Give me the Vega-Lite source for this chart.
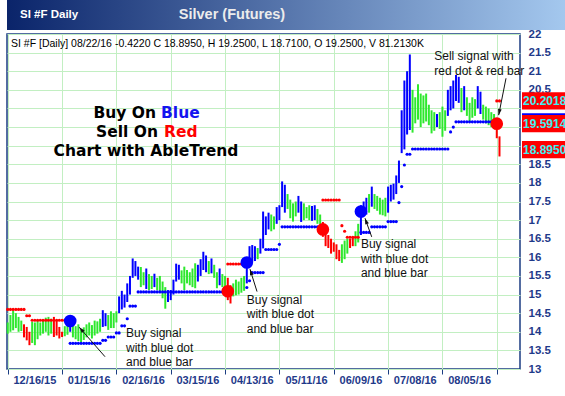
{
  "$schema": "https://vega.github.io/schema/vega-lite/v6.json",
  "background": "white",
  "padding": 0,
  "spacing": -3,
  "config": {"view": {"stroke": null}, "font": "Liberation Sans"},
  "datasets": {
    "bars": [
      {"i":0,"low":13.95,"high":14.25,"trend":"flat","stop":14.6,"side":"sell"},
      {"i":1,"low":14.0,"high":14.45,"trend":"flat","stop":14.6,"side":"sell"},
      {"i":2,"low":14.04,"high":14.58,"trend":"flat","stop":14.6,"side":"sell"},
      {"i":3,"low":14.1,"high":14.5,"trend":"flat","stop":14.6,"side":"sell"},
      {"i":4,"low":14.0,"high":14.4,"trend":"flat","stop":14.6,"side":"sell"},
      {"i":5,"low":14.02,"high":14.3,"trend":"flat","stop":14.6,"side":"sell"},
      {"i":6,"low":13.85,"high":14.2,"trend":"down","stop":14.6,"side":"sell"},
      {"i":7,"low":13.77,"high":14.13,"trend":"down","stop":14.43,"side":"sell"},
      {"i":8,"low":13.64,"high":14.0,"trend":"down","stop":14.43,"side":"sell"},
      {"i":9,"low":13.7,"high":14.27,"trend":"flat","stop":14.31,"side":"sell"},
      {"i":10,"low":13.64,"high":14.25,"trend":"flat","stop":14.31,"side":"sell"},
      {"i":11,"low":13.8,"high":14.3,"trend":"flat","stop":14.31,"side":"sell"},
      {"i":12,"low":13.9,"high":14.25,"trend":"flat","stop":14.31,"side":"sell"},
      {"i":13,"low":13.95,"high":14.32,"trend":"flat","stop":14.31,"side":"sell"},
      {"i":14,"low":14.0,"high":14.38,"trend":"flat","stop":14.31,"side":"sell"},
      {"i":15,"low":13.9,"high":14.4,"trend":"flat","stop":14.31,"side":"sell"},
      {"i":16,"low":13.95,"high":14.35,"trend":"flat","stop":14.31,"side":"sell"},
      {"i":17,"low":13.86,"high":14.4,"trend":"down","stop":14.31,"side":"sell"},
      {"i":18,"low":13.9,"high":14.3,"trend":"down","stop":14.31,"side":"sell"},
      {"i":19,"low":13.82,"high":14.13,"trend":"down","stop":14.31,"side":"sell"},
      {"i":20,"low":13.86,"high":14.0,"trend":"down","stop":14.31,"side":"sell"},
      {"i":21,"low":13.88,"high":14.15,"trend":"flat","stop":14.31,"side":"sell"},
      {"i":22,"low":13.92,"high":14.22,"trend":"flat","stop":14.31,"side":"sell"},
      {"i":23,"low":14.0,"high":14.35,"trend":"up","stop":13.69,"side":"buy"},
      {"i":24,"low":13.85,"high":14.22,"trend":"flat","stop":13.69,"side":"buy"},
      {"i":25,"low":13.8,"high":14.15,"trend":"flat","stop":13.69,"side":"buy"},
      {"i":26,"low":13.75,"high":14.2,"trend":"flat","stop":13.69,"side":"buy"},
      {"i":27,"low":13.72,"high":14.05,"trend":"flat","stop":13.69,"side":"buy"},
      {"i":28,"low":13.78,"high":14.12,"trend":"flat","stop":13.69,"side":"buy"},
      {"i":29,"low":13.85,"high":14.2,"trend":"flat","stop":13.69,"side":"buy"},
      {"i":30,"low":13.9,"high":14.25,"trend":"flat","stop":13.69,"side":"buy"},
      {"i":31,"low":13.82,"high":14.18,"trend":"flat","stop":13.69,"side":"buy"},
      {"i":32,"low":13.9,"high":14.3,"trend":"flat","stop":13.69,"side":"buy"},
      {"i":33,"low":13.95,"high":14.28,"trend":"flat","stop":13.69,"side":"buy"},
      {"i":34,"low":14.0,"high":14.35,"trend":"flat","stop":13.69,"side":"buy"},
      {"i":35,"low":14.13,"high":14.58,"trend":"up","stop":13.77,"side":"buy"},
      {"i":36,"low":14.15,"high":14.5,"trend":"up","stop":13.77,"side":"buy"},
      {"i":37,"low":14.05,"high":14.45,"trend":"flat","stop":13.86,"side":"buy"},
      {"i":38,"low":14.1,"high":14.55,"trend":"flat","stop":13.86,"side":"buy"},
      {"i":39,"low":14.1,"high":14.5,"trend":"flat","stop":13.86,"side":"buy"},
      {"i":40,"low":14.25,"high":14.55,"trend":"flat","stop":13.97,"side":"buy"},
      {"i":41,"low":14.5,"high":14.95,"trend":"up","stop":13.97,"side":"buy"},
      {"i":42,"low":14.6,"high":15.1,"trend":"up","stop":14.16,"side":"buy"},
      {"i":43,"low":14.65,"high":15.0,"trend":"up","stop":14.16,"side":"buy"},
      {"i":44,"low":14.8,"high":15.3,"trend":"up","stop":14.35,"side":"buy"},
      {"i":45,"low":15.0,"high":15.5,"trend":"up","stop":14.69,"side":"buy"},
      {"i":46,"low":15.45,"high":15.97,"trend":"up","stop":14.69,"side":"buy"},
      {"i":47,"low":15.5,"high":15.9,"trend":"up","stop":14.69,"side":"buy"},
      {"i":48,"low":15.4,"high":15.75,"trend":"up","stop":15.07,"side":"buy"},
      {"i":49,"low":15.2,"high":15.74,"trend":"flat","stop":15.07,"side":"buy"},
      {"i":50,"low":15.25,"high":15.6,"trend":"flat","stop":15.07,"side":"buy"},
      {"i":51,"low":15.15,"high":15.7,"trend":"up","stop":15.07,"side":"buy"},
      {"i":52,"low":15.12,"high":15.55,"trend":"flat","stop":15.07,"side":"buy"},
      {"i":53,"low":15.15,"high":15.5,"trend":"flat","stop":15.07,"side":"buy"},
      {"i":54,"low":15.2,"high":15.56,"trend":"up","stop":15.07,"side":"buy"},
      {"i":55,"low":15.12,"high":15.45,"trend":"flat","stop":15.07,"side":"buy"},
      {"i":56,"low":15.05,"high":15.5,"trend":"flat","stop":15.07,"side":"buy"},
      {"i":57,"low":14.9,"high":15.35,"trend":"flat","stop":15.07,"side":"buy"},
      {"i":58,"low":14.62,"high":15.2,"trend":"flat","stop":15.07,"side":"buy"},
      {"i":59,"low":14.8,"high":15.12,"trend":"up","stop":15.07,"side":"buy"},
      {"i":60,"low":14.85,"high":15.12,"trend":"up","stop":15.07,"side":"buy"},
      {"i":61,"low":15.0,"high":15.4,"trend":"up","stop":15.07,"side":"buy"},
      {"i":62,"low":15.35,"high":15.83,"trend":"up","stop":15.07,"side":"buy"},
      {"i":63,"low":15.4,"high":15.8,"trend":"up","stop":15.07,"side":"buy"},
      {"i":64,"low":15.3,"high":15.65,"trend":"flat","stop":15.07,"side":"buy"},
      {"i":65,"low":15.12,"high":15.75,"trend":"flat","stop":15.07,"side":"buy"},
      {"i":66,"low":15.3,"high":15.66,"trend":"flat","stop":15.07,"side":"buy"},
      {"i":67,"low":15.25,"high":15.6,"trend":"flat","stop":15.07,"side":"buy"},
      {"i":68,"low":15.2,"high":15.7,"trend":"flat","stop":15.07,"side":"buy"},
      {"i":69,"low":15.17,"high":15.84,"trend":"flat","stop":15.07,"side":"buy"},
      {"i":70,"low":15.35,"high":15.8,"trend":"up","stop":15.07,"side":"buy"},
      {"i":71,"low":15.5,"high":15.95,"trend":"up","stop":15.07,"side":"buy"},
      {"i":72,"low":15.66,"high":16.15,"trend":"up","stop":15.07,"side":"buy"},
      {"i":73,"low":15.6,"high":16.05,"trend":"up","stop":15.07,"side":"buy"},
      {"i":74,"low":15.55,"high":15.9,"trend":"flat","stop":15.07,"side":"buy"},
      {"i":75,"low":15.57,"high":15.97,"trend":"up","stop":15.07,"side":"buy"},
      {"i":76,"low":15.45,"high":15.8,"trend":"flat","stop":15.07,"side":"buy"},
      {"i":77,"low":15.17,"high":15.6,"trend":"flat","stop":15.07,"side":"buy"},
      {"i":78,"low":15.25,"high":15.7,"trend":"up","stop":15.07,"side":"buy"},
      {"i":79,"low":15.2,"high":15.55,"trend":"flat","stop":15.07,"side":"buy"},
      {"i":80,"low":15.17,"high":15.5,"trend":"flat","stop":15.07,"side":"buy"},
      {"i":81,"low":14.85,"high":15.45,"trend":"down","stop":15.82,"side":"sell"},
      {"i":82,"low":14.76,"high":15.25,"trend":"down","stop":15.82,"side":"sell"},
      {"i":83,"low":14.95,"high":15.3,"trend":"flat","stop":15.82,"side":"sell"},
      {"i":84,"low":14.98,"high":15.4,"trend":"flat","stop":15.82,"side":"sell"},
      {"i":85,"low":15.0,"high":15.35,"trend":"flat","stop":15.82,"side":"sell"},
      {"i":86,"low":15.05,"high":15.45,"trend":"flat","stop":15.82,"side":"sell"},
      {"i":87,"low":15.1,"high":15.5,"trend":"flat","stop":null,"side":null},
      {"i":88,"low":15.3,"high":15.95,"trend":"up","stop":15.19,"side":"buy"},
      {"i":89,"low":15.85,"high":16.3,"trend":"up","stop":15.37,"side":"buy"},
      {"i":90,"low":15.88,"high":16.33,"trend":"up","stop":15.59,"side":"buy"},
      {"i":91,"low":15.9,"high":16.3,"trend":"up","stop":15.59,"side":"buy"},
      {"i":92,"low":15.95,"high":16.25,"trend":"flat","stop":15.59,"side":"buy"},
      {"i":93,"low":16.1,"high":16.5,"trend":"up","stop":15.59,"side":"buy"},
      {"i":94,"low":16.24,"high":17.23,"trend":"up","stop":15.59,"side":"buy"},
      {"i":95,"low":16.6,"high":17.1,"trend":"up","stop":16.21,"side":"buy"},
      {"i":96,"low":16.75,"high":17.2,"trend":"up","stop":16.21,"side":"buy"},
      {"i":97,"low":16.7,"high":17.15,"trend":"flat","stop":16.21,"side":"buy"},
      {"i":98,"low":16.75,"high":17.1,"trend":"flat","stop":16.21,"side":"buy"},
      {"i":99,"low":16.9,"high":17.35,"trend":"up","stop":16.21,"side":"buy"},
      {"i":100,"low":17.0,"high":17.4,"trend":"up","stop":16.35,"side":"buy"},
      {"i":101,"low":17.35,"high":18.04,"trend":"up","stop":16.82,"side":"buy"},
      {"i":102,"low":17.2,"high":17.95,"trend":"up","stop":16.82,"side":"buy"},
      {"i":103,"low":17.3,"high":17.7,"trend":"flat","stop":16.82,"side":"buy"},
      {"i":104,"low":17.05,"high":17.55,"trend":"flat","stop":16.82,"side":"buy"},
      {"i":105,"low":16.96,"high":17.45,"trend":"flat","stop":16.82,"side":"buy"},
      {"i":106,"low":17.1,"high":17.5,"trend":"flat","stop":16.82,"side":"buy"},
      {"i":107,"low":17.2,"high":17.65,"trend":"up","stop":16.82,"side":"buy"},
      {"i":108,"low":16.95,"high":17.5,"trend":"up","stop":16.82,"side":"buy"},
      {"i":109,"low":17.0,"high":17.45,"trend":"flat","stop":16.82,"side":"buy"},
      {"i":110,"low":17.05,"high":17.35,"trend":"flat","stop":16.82,"side":"buy"},
      {"i":111,"low":17.0,"high":17.4,"trend":"flat","stop":16.82,"side":"buy"},
      {"i":112,"low":16.98,"high":17.38,"trend":"up","stop":16.82,"side":"buy"},
      {"i":113,"low":17.0,"high":17.4,"trend":"up","stop":16.82,"side":"buy"},
      {"i":114,"low":16.9,"high":17.3,"trend":"flat","stop":16.82,"side":"buy"},
      {"i":115,"low":16.85,"high":17.15,"trend":"flat","stop":16.82,"side":"buy"},
      {"i":116,"low":16.55,"high":16.95,"trend":"down","stop":17.54,"side":"sell"},
      {"i":117,"low":16.3,"high":16.75,"trend":"down","stop":17.54,"side":"sell"},
      {"i":118,"low":16.25,"high":16.6,"trend":"down","stop":17.54,"side":"sell"},
      {"i":119,"low":16.1,"high":16.5,"trend":"down","stop":17.54,"side":"sell"},
      {"i":120,"low":16.15,"high":16.4,"trend":"down","stop":17.54,"side":"sell"},
      {"i":121,"low":15.95,"high":16.35,"trend":"down","stop":17.54,"side":"sell"},
      {"i":122,"low":15.9,"high":16.2,"trend":"down","stop":17.54,"side":"sell"},
      {"i":123,"low":15.85,"high":16.35,"trend":"flat","stop":16.85,"side":"sell"},
      {"i":124,"low":15.95,"high":16.45,"trend":"flat","stop":16.7,"side":"sell"},
      {"i":125,"low":16.1,"high":16.5,"trend":"flat","stop":16.54,"side":"sell"},
      {"i":126,"low":16.25,"high":16.5,"trend":"down","stop":16.54,"side":"sell"},
      {"i":127,"low":16.3,"high":16.52,"trend":"down","stop":16.54,"side":"sell"},
      {"i":128,"low":16.3,"high":16.7,"trend":"flat","stop":16.54,"side":"sell"},
      {"i":129,"low":16.4,"high":16.9,"trend":"flat","stop":16.54,"side":"sell"},
      {"i":130,"low":16.6,"high":17.4,"trend":"up","stop":16.67,"side":"buy"},
      {"i":131,"low":17.1,"high":17.5,"trend":"up","stop":16.67,"side":"buy"},
      {"i":132,"low":17.15,"high":17.6,"trend":"up","stop":16.67,"side":"buy"},
      {"i":133,"low":17.2,"high":17.7,"trend":"flat","stop":16.67,"side":"buy"},
      {"i":134,"low":17.36,"high":17.9,"trend":"up","stop":16.82,"side":"buy"},
      {"i":135,"low":17.3,"high":17.7,"trend":"flat","stop":16.82,"side":"buy"},
      {"i":136,"low":17.25,"high":17.65,"trend":"flat","stop":16.82,"side":"buy"},
      {"i":137,"low":17.15,"high":17.6,"trend":"flat","stop":16.82,"side":"buy"},
      {"i":138,"low":17.13,"high":17.55,"trend":"flat","stop":16.82,"side":"buy"},
      {"i":139,"low":17.1,"high":17.6,"trend":"flat","stop":16.82,"side":"buy"},
      {"i":140,"low":17.2,"high":17.9,"trend":"up","stop":16.96,"side":"buy"},
      {"i":141,"low":17.5,"high":17.95,"trend":"up","stop":16.96,"side":"buy"},
      {"i":142,"low":17.55,"high":17.98,"trend":"up","stop":16.96,"side":"buy"},
      {"i":143,"low":17.7,"high":18.2,"trend":"up","stop":16.96,"side":"buy"},
      {"i":144,"low":18.0,"high":18.6,"trend":"up","stop":17.47,"side":"buy"},
      {"i":145,"low":18.8,"high":19.95,"trend":"up","stop":17.9,"side":"buy"},
      {"i":146,"low":18.9,"high":20.75,"trend":"up","stop":18.48,"side":"buy"},
      {"i":147,"low":19.3,"high":21.0,"trend":"up","stop":18.77,"side":"buy"},
      {"i":148,"low":19.42,"high":21.45,"trend":"up","stop":18.77,"side":"buy"},
      {"i":149,"low":19.35,"high":20.5,"trend":"flat","stop":18.91,"side":"buy"},
      {"i":150,"low":19.6,"high":20.3,"trend":"flat","stop":18.91,"side":"buy"},
      {"i":151,"low":19.7,"high":20.65,"trend":"flat","stop":18.91,"side":"buy"},
      {"i":152,"low":19.5,"high":20.4,"trend":"flat","stop":18.91,"side":"buy"},
      {"i":153,"low":19.6,"high":20.35,"trend":"flat","stop":18.91,"side":"buy"},
      {"i":154,"low":19.65,"high":20.4,"trend":"flat","stop":18.91,"side":"buy"},
      {"i":155,"low":19.55,"high":20.1,"trend":"flat","stop":18.91,"side":"buy"},
      {"i":156,"low":19.33,"high":19.95,"trend":"flat","stop":18.91,"side":"buy"},
      {"i":157,"low":19.4,"high":19.9,"trend":"flat","stop":18.91,"side":"buy"},
      {"i":158,"low":19.5,"high":19.85,"trend":"up","stop":18.91,"side":"buy"},
      {"i":159,"low":19.45,"high":19.9,"trend":"flat","stop":18.91,"side":"buy"},
      {"i":160,"low":19.24,"high":20.05,"trend":"flat","stop":18.91,"side":"buy"},
      {"i":161,"low":19.4,"high":19.95,"trend":"flat","stop":18.91,"side":"buy"},
      {"i":162,"low":19.8,"high":20.5,"trend":"up","stop":18.91,"side":"buy"},
      {"i":163,"low":19.95,"high":20.6,"trend":"up","stop":19.37,"side":"buy"},
      {"i":164,"low":20.0,"high":20.75,"trend":"up","stop":19.5,"side":"buy"},
      {"i":165,"low":20.2,"high":20.9,"trend":"up","stop":19.64,"side":"buy"},
      {"i":166,"low":20.15,"high":20.85,"trend":"up","stop":19.64,"side":"buy"},
      {"i":167,"low":19.9,"high":20.55,"trend":"flat","stop":19.64,"side":"buy"},
      {"i":168,"low":19.95,"high":20.6,"trend":"up","stop":19.64,"side":"buy"},
      {"i":169,"low":19.8,"high":20.3,"trend":"flat","stop":19.64,"side":"buy"},
      {"i":170,"low":19.65,"high":20.15,"trend":"flat","stop":19.64,"side":"buy"},
      {"i":171,"low":19.75,"high":20.3,"trend":"flat","stop":19.64,"side":"buy"},
      {"i":172,"low":19.8,"high":20.25,"trend":"flat","stop":19.64,"side":"buy"},
      {"i":173,"low":20.0,"high":20.6,"trend":"up","stop":19.64,"side":"buy"},
      {"i":174,"low":19.85,"high":20.45,"trend":"up","stop":19.64,"side":"buy"},
      {"i":175,"low":19.7,"high":20.1,"trend":"flat","stop":19.64,"side":"buy"},
      {"i":176,"low":19.6,"high":20.05,"trend":"flat","stop":19.64,"side":"buy"},
      {"i":177,"low":19.55,"high":20.0,"trend":"flat","stop":19.64,"side":"buy"},
      {"i":178,"low":19.5,"high":19.9,"trend":"flat","stop":19.64,"side":"buy"},
      {"i":179,"low":19.45,"high":19.85,"trend":"flat","stop":19.64,"side":"buy"},
      {"i":180,"low":19.2,"high":19.55,"trend":"down","stop":20.2018,"side":"sell"},
      {"i":181,"low":18.71,"high":19.25,"trend":"down","stop":20.2018,"side":"sell"}
    ],
    "signals": [
      {"i":23,"price":14.29,"signal":"buy"},
      {"i":81,"price":15.09,"signal":"sell"},
      {"i":88,"price":15.86,"signal":"buy"},
      {"i":116,"price":16.75,"signal":"sell"},
      {"i":130,"price":17.23,"signal":"buy"},
      {"i":180,"price":19.5914,"signal":"sell"}
    ],
    "notes": [
      {"note":"Buy signal\nwith blue dot\nand blue bar","i":43.54,"price":14.09},
      {"note":"Buy signal\nwith blue dot\nand blue bar","i":87.97,"price":15.0},
      {"note":"Buy signal\nwith blue dot\nand blue bar","i":130.0,"price":16.48},
      {"note":"Sell signal with\nred dot & red bar","i":157.0,"price":21.53}
    ],
    "arrows": [
      {"i":35.81,"price":13.33,"i2":26.35,"price2":14.12},
      {"i":91.76,"price":15.08,"i2":89.18,"price2":15.68},
      {"i":133.97,"price":16.55,"i2":131.5,"price2":17.05},
      {"i":183.4,"price":20.81,"i2":180.7,"price2":19.82}
    ],
    "tags": [
      {"price":19.64,"kind":"buy stop"},
      {"price":20.2018,"kind":"sell stop"},
      {"price":19.5914,"kind":"signal"},
      {"price":18.895,"kind":"close"}
    ],
    "dates": [
      {"i":10,"date":"12/16/15"},
      {"i":30,"date":"01/15/16"},
      {"i":50,"date":"02/16/16"},
      {"i":70,"date":"03/15/16"},
      {"i":90,"date":"04/13/16"},
      {"i":110,"date":"05/11/16"},
      {"i":130,"date":"06/09/16"},
      {"i":150,"date":"07/08/16"},
      {"i":170,"date":"08/05/16"}
    ]
  },
  "vconcat": [
    {
      "width": 565,
      "height": 30,
      "view": {"stroke": null},
      "data": {"values": [{"name": "SI #F Daily", "title": "Silver (Futures)"}]},
      "layer": [
        {
          "mark": {"type": "rect", "color": {"x1": 0, "y1": 0, "x2": 1, "y2": 0, "gradient": "linear", "stops": [{"offset": 0, "color": "#0a246a"}, {"offset": 1, "color": "#a6caf0"}]}},
          "encoding": {}
        },
        {
          "mark": {"type": "text", "align": "left", "baseline": "middle", "dx": -269.5, "font": "Liberation Sans", "fontWeight": "bold", "fontSize": 11.5, "color": "white"},
          "encoding": {"text": {"field": "name"}}
        },
        {
          "mark": {"type": "text", "align": "center", "baseline": "middle", "dx": -57.5, "font": "Liberation Sans", "fontWeight": "bold", "fontSize": 14.5, "color": "#ececec"},
          "encoding": {"text": {"field": "title"}}
        }
      ]
    },
    {
      "width": 513,
      "height": 335,
      "view": {"stroke": "#1b3d82", "strokeWidth": 1.5, "fill": "white"},
      "resolve": {"axis": {"y": "independent"}, "scale": {"color": "independent"}},
      "layer": [
        {
          "data": {"name": "bars"},
          "mark": {"type": "rule", "strokeWidth": 2},
          "encoding": {
            "x": {"field": "i", "type": "quantitative", "scale": {"domain": [-0.26, 188.55], "nice": false, "zero": false},
              "axis": {"title": null, "orient": "bottom", "labels": false, "values": [0,5,10,15,20,25,30,35,40,45,50,55,60,65,70,75,80,85,90,95,100,105,110,115,120,125,130,135,140,145,150,155,160,165,170,175,180],
                "grid": true, "gridColor": "#c2efc2", "gridWidth": 1, "domain": false, "ticks": true, "tickSize": 5, "tickColor": "#1b3d82", "tickWidth": 1}},
            "y": {"field": "low", "type": "quantitative", "scale": {"domain": [13, 22], "nice": false, "zero": false},
              "axis": {"title": null, "orient": "right", "values": [13,13.5,14,14.5,15,15.5,16,16.5,17,17.5,18,18.5,19,19.5,20,20.5,21,21.5,22],
                "labelExpr": "datum.value == 19 || datum.value == 19.5 || datum.value == 20 ? '' : format(datum.value, '~g')",
                "grid": true, "gridColor": "#c2efc2", "gridWidth": 1, "domain": false, "ticks": false, "tickSize": 0, "labelPadding": 8,
                "labelFont": "Liberation Sans", "labelFontSize": 11.5, "labelFontWeight": "bold", "labelColor": "#1f3a8a", "labelFlush": false, "labelOverlap": false}},
            "y2": {"field": "high"},
            "color": {"field": "trend", "type": "nominal", "scale": {"domain": ["up", "flat", "down"], "range": ["#0000ff", "#2ee82e", "#ff0000"]}, "legend": null}
          }
        },
        {
          "data": {"name": "bars"},
          "transform": [{"filter": "isValid(datum.stop)"}],
          "mark": {"type": "point", "filled": true, "size": 10, "opacity": 1, "strokeWidth": 0},
          "encoding": {
            "x": {"field": "i", "type": "quantitative"},
            "y": {"field": "stop", "type": "quantitative", "axis": {"orient": "left", "title": null, "labels": false, "ticks": false, "domain": false, "grid": false, "minExtent": 6, "maxExtent": 6}},
            "color": {"field": "side", "type": "nominal", "scale": {"domain": ["buy", "sell"], "range": ["#0000ff", "#ff0000"]}, "legend": null}
          }
        },
        {
          "data": {"name": "signals"},
          "mark": {"type": "circle", "size": 160, "opacity": 1},
          "encoding": {
            "x": {"field": "i", "type": "quantitative"},
            "y": {"field": "price", "type": "quantitative", "axis": null},
            "color": {"field": "signal", "type": "nominal", "scale": {"domain": ["buy", "sell"], "range": ["#0000ff", "#ff0000"]}, "legend": null}
          }
        },
        {
          "data": {"name": "arrows"},
          "mark": {"type": "rule", "color": "#111111", "strokeWidth": 1},
          "encoding": {
            "x": {"field": "i", "type": "quantitative"},
            "y": {"field": "price", "type": "quantitative", "axis": null},
            "x2": {"field": "i2"},
            "y2": {"field": "price2"}
          }
        },
        {
          "data": {"values": [{}]},
          "mark": {"type": "point", "shape": "M0,0L0.7,2.2L-0.7,2.2Z", "size": 30, "filled": true, "opacity": 1, "color": "#111111", "angle": 318.8},
          "encoding": {"x": {"datum": 26.35, "type": "quantitative"}, "y": {"datum": 14.12, "type": "quantitative", "axis": null}}
        },
        {
          "data": {"values": [{}]},
          "mark": {"type": "point", "shape": "M0,0L0.7,2.2L-0.7,2.2Z", "size": 30, "filled": true, "opacity": 1, "color": "#111111", "angle": 342.6},
          "encoding": {"x": {"datum": 89.18, "type": "quantitative"}, "y": {"datum": 15.68, "type": "quantitative", "axis": null}}
        },
        {
          "data": {"values": [{}]},
          "mark": {"type": "point", "shape": "M0,0L0.7,2.2L-0.7,2.2Z", "size": 30, "filled": true, "opacity": 1, "color": "#111111", "angle": 340},
          "encoding": {"x": {"datum": 131.5, "type": "quantitative"}, "y": {"datum": 17.05, "type": "quantitative", "axis": null}}
        },
        {
          "data": {"values": [{}]},
          "mark": {"type": "point", "shape": "M0,0L0.7,2.2L-0.7,2.2Z", "size": 30, "filled": true, "opacity": 1, "color": "#111111", "angle": 191.2},
          "encoding": {"x": {"datum": 180.7, "type": "quantitative"}, "y": {"datum": 19.82, "type": "quantitative", "axis": null}}
        },
        {
          "data": {"name": "notes"},
          "mark": {"type": "text", "align": "left", "baseline": "top", "lineBreak": "\n", "lineHeight": 14.5, "font": "Liberation Sans", "fontSize": 12, "color": "#111111"},
          "encoding": {
            "x": {"field": "i", "type": "quantitative"},
            "y": {"field": "price", "type": "quantitative", "axis": null},
            "text": {"field": "note"}
          }
        },
        {
          "data": {"values": [{}]},
          "mark": {"type": "text", "text": "SI #F [Daily] 08/22/16  -0.4220 C 18.8950, H 19.2500, L 18.7100, O 19.2500, V 81.2130K", "align": "left", "baseline": "middle", "font": "Liberation Sans", "fontSize": 10.5, "color": "#000000"},
          "encoding": {"x": {"datum": 1.21, "type": "quantitative"}, "y": {"datum": 21.73, "type": "quantitative", "axis": null}}
        },
        {
          "data": {"values": [{}]},
          "mark": {"type": "text", "text": "Buy On", "align": "right", "baseline": "middle", "font": "DejaVu Sans", "fontWeight": "bold", "fontSize": 15.5, "color": "#000000"},
          "encoding": {"x": {"datum": 54.58, "type": "quantitative"}, "y": {"datum": 19.88, "type": "quantitative", "axis": null}}
        },
        {
          "data": {"values": [{}]},
          "mark": {"type": "text", "text": "Blue", "align": "left", "baseline": "middle", "font": "DejaVu Sans", "fontWeight": "bold", "fontSize": 15.5, "color": "#1414f0"},
          "encoding": {"x": {"datum": 56.42, "type": "quantitative"}, "y": {"datum": 19.88, "type": "quantitative", "axis": null}}
        },
        {
          "data": {"values": [{}]},
          "mark": {"type": "text", "text": "Sell On", "align": "right", "baseline": "middle", "font": "DejaVu Sans", "fontWeight": "bold", "fontSize": 15.5, "color": "#000000"},
          "encoding": {"x": {"datum": 55.32, "type": "quantitative"}, "y": {"datum": 19.37, "type": "quantitative", "axis": null}}
        },
        {
          "data": {"values": [{}]},
          "mark": {"type": "text", "text": "Red", "align": "left", "baseline": "middle", "font": "DejaVu Sans", "fontWeight": "bold", "fontSize": 15.5, "color": "#ff0000"},
          "encoding": {"x": {"datum": 57.53, "type": "quantitative"}, "y": {"datum": 19.37, "type": "quantitative", "axis": null}}
        },
        {
          "data": {"values": [{}]},
          "mark": {"type": "text", "text": "Chart with AbleTrend", "align": "center", "baseline": "middle", "font": "DejaVu Sans", "fontWeight": "bold", "fontSize": 15.5, "color": "#000000"},
          "encoding": {"x": {"datum": 50.9, "type": "quantitative"}, "y": {"datum": 18.86, "type": "quantitative", "axis": null}}
        },
        {
          "data": {"name": "tags"},
          "mark": {"type": "point", "shape": "M-1,-0.4L1,-0.4L1,0.4L-1,0.4Z", "size": 1849, "filled": true, "opacity": 1, "strokeWidth": 0},
          "encoding": {
            "x": {"datum": 197.2, "type": "quantitative"},
            "y": {"field": "price", "type": "quantitative", "axis": null},
            "color": {"field": "kind", "type": "nominal", "scale": {"domain": ["buy stop", "sell stop", "signal", "close"], "range": ["#0000ff", "#ff0000", "#ff0000", "#ff0000"]}, "legend": null}
          }
        },
        {
          "data": {"name": "tags"},
          "transform": [{"filter": "datum.kind != 'buy stop'"}],
          "mark": {"type": "text", "align": "left", "baseline": "middle", "font": "Liberation Sans", "fontWeight": "bold", "fontSize": 12, "color": "#3ff0f0"},
          "encoding": {
            "x": {"datum": 189.66, "type": "quantitative"},
            "y": {"field": "price", "type": "quantitative", "axis": null},
            "text": {"field": "price", "type": "quantitative", "format": ".4f"}
          }
        },
        {
          "data": {"name": "dates"},
          "mark": {"type": "text", "align": "center", "baseline": "middle", "font": "Liberation Sans", "fontWeight": "bold", "fontSize": 11, "color": "#1f3a8a"},
          "encoding": {
            "x": {"field": "i", "type": "quantitative"},
            "y": {"datum": 12.68, "type": "quantitative", "axis": null},
            "text": {"field": "date"}
          }
        }
      ]
    }
  ]
}
